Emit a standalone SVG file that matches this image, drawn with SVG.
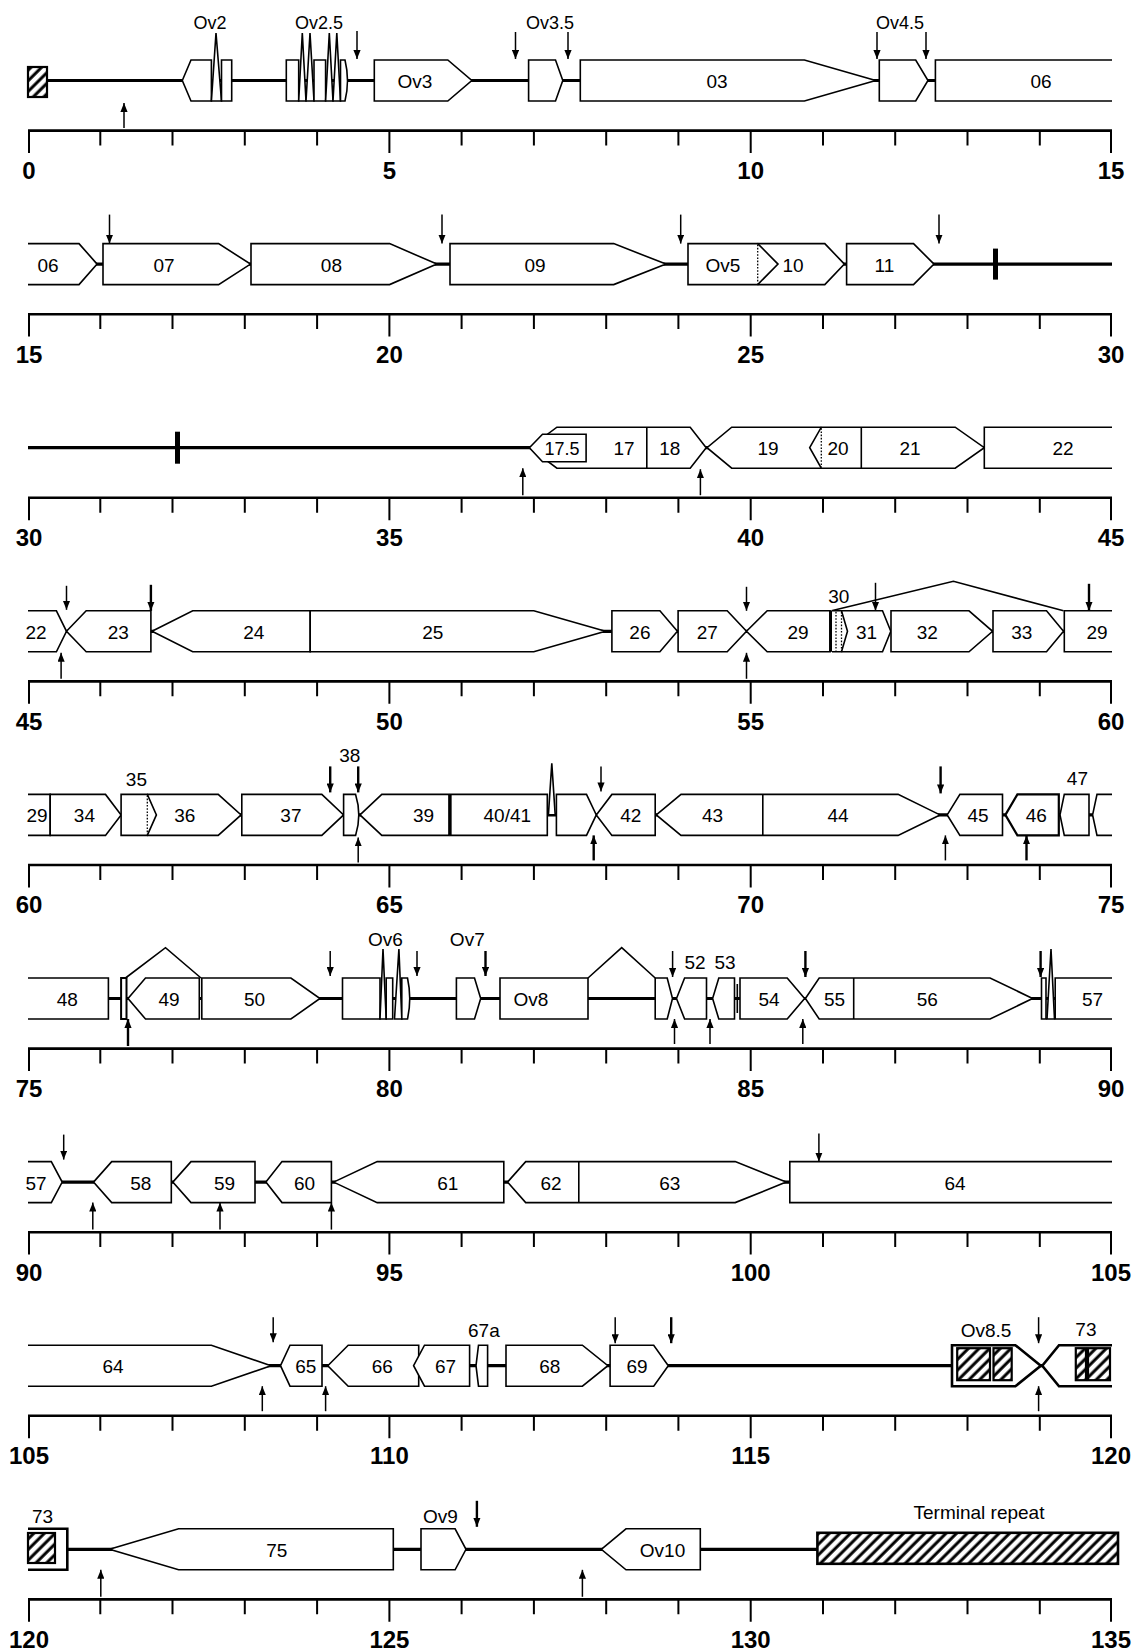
<svg xmlns="http://www.w3.org/2000/svg" width="1139" height="1650" viewBox="0 0 1139 1650">
<style>
.g{fill:#fff;stroke:#000;stroke-width:1.6;stroke-linejoin:miter}
.gk{fill:#fff;stroke:#000;stroke-width:2.6}
.h{fill:url(#hatch);stroke:#000;stroke-width:2.2}
.bb{stroke:#000;stroke-width:3.2}
.c{fill:none;stroke:#000;stroke-width:1.6}
.d{stroke:#000;stroke-width:1.3;stroke-dasharray:1.6 1.6}
.ln{stroke:#000;stroke-width:1.6}
.a{stroke:#000;stroke-width:1.5;marker-end:url(#ah)}
.ak{stroke:#000;stroke-width:2.4;marker-end:url(#ah)}
.bar{fill:#000}
text{font-family:"Liberation Sans",Arial,sans-serif;fill:#000}
.t{font-size:19px;text-anchor:middle}
.s{font-size:18px;text-anchor:middle}
.n{font-size:24px;font-weight:bold;text-anchor:middle}
</style>
<defs>
<pattern id="hatch" patternUnits="userSpaceOnUse" width="7.5" height="7.5" patternTransform="rotate(45)">
<rect width="7.5" height="7.5" fill="#fff"/>
<line x1="2" y1="0" x2="2" y2="7.5" stroke="#000" stroke-width="3"/>
</pattern>
<marker id="ah" markerUnits="userSpaceOnUse" viewBox="0 0 10 8" refX="10" refY="4" markerWidth="9" markerHeight="7.2" orient="auto">
<path d="M0,0 L10,4 L0,8 z" fill="#000"/>
</marker>
<g id="axis">
<line x1="28" y1="130.6" x2="1112" y2="130.6" stroke="#000" stroke-width="2.6"/>
<path d="M29,130V153M100.3,130V145.5M172.5,130V145.5M244.8,130V145.5M317.1,130V145.5M389.4,130V153M461.6,130V145.5M533.9,130V145.5M606.2,130V145.5M678.4,130V145.5M750.7,130V153M823,130V145.5M895.2,130V145.5M967.5,130V145.5M1039.8,130V145.5M1111,130V153" stroke="#000" stroke-width="2"/>
</g>
</defs>
<rect width="1139" height="1650" fill="#fff"/>

<!-- ROW 1 -->
<g id="row1">
<use href="#axis"/>
<g id="scale1"><text class="n" x="29" y="179">0</text><text class="n" x="389.4" y="179">5</text><text class="n" x="750.7" y="179">10</text><text class="n" x="1111" y="179">15</text></g>
<g id="connectors-row1">
<line class="bb" x1="47" y1="80.5" x2="1112" y2="80.5"/>
<line class="a" x1="124" y1="128" x2="124" y2="103"/>
<line class="a" x1="357" y1="31" x2="357" y2="59"/>
<line class="a" x1="515.5" y1="32" x2="515.5" y2="59"/>
<line class="a" x1="568" y1="32" x2="568" y2="59"/>
<line class="a" x1="877" y1="32" x2="877" y2="59"/>
<line class="a" x1="926" y1="32" x2="926" y2="59"/>
</g>
<g id="lterm"><rect class="h" x="28" y="67" width="19" height="30"/></g>
<g id="gene-Ov2">
<path class="g" d="M182.3,80.5 L191,60 H211.4 V101 H191 Z"/>
<path class="g" d="M211.4,101 L216,33 L221.5,101 Z"/>
<path class="g" d="M221.5,60 H231.7 V101 H221.5 Z"/>
<text class="s" x="210" y="29">Ov2</text>
</g>
<g id="gene-Ov2.5">
<path class="g" d="M286.3,60 H298.7 V101 H286.3 Z"/>
<path class="g" d="M298.7,101 L302.3,33 L306,101 Z"/>
<path class="g" d="M306,101 L310,33 L314,101 Z"/>
<path class="g" d="M314,60 H325.6 V101 H314 Z"/>
<path class="g" d="M325.6,101 L329.3,33 L333,101 Z"/>
<path class="g" d="M333,101 L336.8,33 L340.5,101 Z"/>
<path class="g" d="M340.5,60 H345 Q350,80.5 345,101 H340.5 Z"/>
<text class="s" x="319" y="29">Ov2.5</text>
</g>
<g id="gene-Ov3"><path class="g" d="M374.3,60 H447.8 L471.8,80.5 L447.8,101 H374.3 Z"/><text class="t" x="415" y="88">Ov3</text></g>
<g id="gene-Ov3.5"><path class="g" d="M528.6,60 H555.5 L562.8,80.5 L555.5,101 H528.6 Z"/><text class="s" x="550" y="29">Ov3.5</text></g>
<g id="gene-03"><path class="g" d="M580.3,60 H804.4 L875.7,80.5 L804.4,101 H580.3 Z"/><text class="t" x="717" y="88">03</text></g>
<g id="gene-Ov4.5"><path class="g" d="M879.3,60 H915.7 L928,80.5 L915.7,101 H879.3 Z"/><text class="s" x="900" y="29">Ov4.5</text></g>
<g id="gene-06a"><path class="g" d="M1112,60 H935.4 V101 H1112"/><text class="t" x="1041" y="88">06</text></g>
</g>

<!-- ROW 2 -->
<g id="row2" transform="translate(0,183.6)">
<use href="#axis"/>
<g id="scale2"><text class="n" x="29" y="179">15</text><text class="n" x="389.4" y="179">20</text><text class="n" x="750.7" y="179">25</text><text class="n" x="1111" y="179">30</text></g>
<g id="connectors-row2">
<line class="bb" x1="28" y1="80.5" x2="1112" y2="80.5"/>
<line class="a" x1="109.5" y1="31" x2="109.5" y2="60"/>
<line class="a" x1="442" y1="31" x2="442" y2="60"/>
<line class="a" x1="680.7" y1="31" x2="680.7" y2="60"/>
<line class="a" x1="939" y1="31" x2="939" y2="60"/>
</g>
<g id="gene-06b"><path class="g" d="M28,60 H79 L97.1,80.5 L79,101 H28"/><text class="t" x="48" y="88">06</text></g>
<g id="gene-07"><path class="g" d="M103,60 H218.6 L250.5,80.5 L218.6,101 H103 Z"/><text class="t" x="164" y="88">07</text></g>
<g id="gene-08"><path class="g" d="M251,60 H389.6 L436.9,80.5 L389.6,101 H251 Z"/><text class="t" x="331.4" y="88">08</text></g>
<g id="gene-09"><path class="g" d="M450,60 H613.7 L666,80.5 L613.7,101 H450 Z"/><text class="t" x="535" y="88">09</text></g>
<g id="gene-10"><path class="g" d="M757.7,60 H824.8 L844.4,80.5 L824.8,101 H757.7"/><text class="t" x="793" y="88">10</text></g>
<g id="gene-Ov5"><path class="g" d="M688,60 H757.7 L778,80.5 L757.7,101 H688 Z"/><line class="d" x1="757.7" y1="61" x2="757.7" y2="100"/><text class="t" x="723" y="88">Ov5</text></g>
<g id="gene-11"><path class="g" d="M846.6,60 H913.5 L934,80.5 L913.5,101 H846.6 Z"/><text class="t" x="884.4" y="88">11</text></g>
<g id="mark1"><rect class="bar" x="993" y="65" width="5" height="31"/></g>
</g>

<!-- ROW 3 -->
<g id="row3" transform="translate(0,367.2)">
<use href="#axis"/>
<g id="scale3"><text class="n" x="29" y="179">30</text><text class="n" x="389.4" y="179">35</text><text class="n" x="750.7" y="179">40</text><text class="n" x="1111" y="179">45</text></g>
<g id="connectors-row3">
<line class="bb" x1="28" y1="80.5" x2="1112" y2="80.5"/>
<line class="a" x1="522.8" y1="128" x2="522.8" y2="101"/>
<line class="a" x1="700.4" y1="128" x2="700.4" y2="102"/>
</g>
<g id="mark2"><rect class="bar" x="175" y="64.5" width="5" height="32"/></g>
<g id="gene-17-18"><path class="g" d="M556.9,60 H690.2 L706.2,80.5 L690.2,101 H556.9 L529.4,80.5 Z"/><line class="ln" x1="646.8" y1="60" x2="646.8" y2="101"/><text class="t" x="624" y="88">17</text><text class="t" x="669.8" y="88">18</text></g>
<g id="gene-17.5"><path class="g" d="M529.4,80.5 L542.5,67 H586.1 V94.5 H542.5 Z"/><text class="s" x="562" y="87.5">17.5</text></g>
<g id="gene-19"><path class="g" d="M821.3,60 H731.7 L707,80.5 L731.7,101 H821.3"/><text class="t" x="768" y="88">19</text></g>
<g id="gene-20-21"><path class="g" d="M809.7,80.5 L821.3,60 H955.2 L984.3,80.5 L955.2,101 H821.3 Z"/><line class="d" x1="821.3" y1="61" x2="821.3" y2="100"/><line class="ln" x1="861.3" y1="60" x2="861.3" y2="101"/><text class="t" x="838" y="88">20</text><text class="t" x="910" y="88">21</text></g>
<g id="gene-22a"><path class="g" d="M1112,60 H984.3 V101 H1112"/><text class="t" x="1063" y="88">22</text></g>
</g>

<!-- ROW 4 -->
<g id="row4" transform="translate(0,550.8)">
<use href="#axis"/>
<g id="scale4"><text class="n" x="29" y="179">45</text><text class="n" x="389.4" y="179">50</text><text class="n" x="750.7" y="179">55</text><text class="n" x="1111" y="179">60</text></g>
<g id="connectors-row4">
<line class="bb" x1="28" y1="80.5" x2="1112" y2="80.5"/>
<polyline class="c" points="831.5,60 953.4,30.5 1063.5,60"/>
<line class="a" x1="66.5" y1="35" x2="66.5" y2="59"/>
<line class="a" x1="61.1" y1="128" x2="61.1" y2="102"/>
<line class="ak" x1="150.9" y1="34" x2="150.9" y2="60"/>
<line class="a" x1="746.5" y1="36" x2="746.5" y2="60"/>
<line class="a" x1="746.5" y1="128" x2="746.5" y2="102"/>
<line class="a" x1="875.5" y1="32" x2="875.5" y2="60"/>
<line class="ak" x1="1089" y1="33" x2="1089" y2="60"/>
</g>
<g id="gene-22b"><path class="g" d="M28,60 H56.4 L66.5,80.5 L56.4,101 H28"/><text class="t" x="36" y="88">22</text></g>
<g id="gene-23"><path class="g" d="M66.5,80.5 L86.2,60 H150.9 V101 H86.2 Z"/><text class="t" x="118.2" y="88">23</text></g>
<g id="gene-24"><path class="g" d="M152,80.5 L192.7,60 H310.2 V101 H192.7 Z"/><text class="t" x="253.8" y="88">24</text></g>
<g id="gene-25"><path class="g" d="M310.2,60 H533.8 L605.4,80.5 L533.8,101 H310.2 Z"/><text class="t" x="432.7" y="88">25</text></g>
<g id="gene-26"><path class="g" d="M611.9,60 H659.9 L677.4,80.5 L659.9,101 H611.9 Z"/><text class="t" x="639.9" y="88">26</text></g>
<g id="gene-27"><path class="g" d="M678.1,60 H727.2 L746.5,80.5 L727.2,101 H678.1 Z"/><text class="t" x="707.2" y="88">27</text></g>
<g id="gene-29a"><path class="g" d="M746.5,80.5 L767.2,60 H830.1 V101 H767.2 Z"/><line x1="830.6" y1="60" x2="830.6" y2="101" stroke="#000" stroke-width="3"/><text class="t" x="798.1" y="88">29</text></g>
<g id="gene-31"><path class="g" d="M841.5,60 H882.5 L890.8,80.5 L882.5,101 H841.5"/><text class="t" x="866.5" y="88">31</text></g>
<g id="gene-30"><path class="g" d="M832,60 H841.5 L847.5,80.5 L841.5,101 H832"/><line class="d" x1="836" y1="61" x2="836" y2="100"/><line class="d" x1="841.5" y1="61" x2="841.5" y2="100"/><text class="t" x="838.8" y="52">30</text></g>
<g id="gene-32"><path class="g" d="M891,60 H969 L992.6,80.5 L969,101 H891 Z"/><text class="t" x="927.2" y="88">32</text></g>
<g id="gene-33"><path class="g" d="M993,60 H1046.5 L1063.5,80.5 L1046.5,101 H993 Z"/><text class="t" x="1021.7" y="88">33</text></g>
<g id="gene-29b"><path class="g" d="M1112,60 H1064.3 V101 H1112"/><text class="t" x="1097" y="88">29</text></g>
</g>

<!-- ROW 5 -->
<g id="row5" transform="translate(0,734.4)">
<use href="#axis"/>
<g id="scale5"><text class="n" x="29" y="179">60</text><text class="n" x="389.4" y="179">65</text><text class="n" x="750.7" y="179">70</text><text class="n" x="1111" y="179">75</text></g>
<g id="connectors-row5">
<line class="bb" x1="28" y1="80.5" x2="1112" y2="80.5"/>
<line class="ak" x1="330.2" y1="32" x2="330.2" y2="58"/>
<line class="ak" x1="358.2" y1="32" x2="358.2" y2="58"/>
<line class="a" x1="358.2" y1="128" x2="358.2" y2="103"/>
<line class="a" x1="601" y1="32" x2="601" y2="57"/>
<line class="ak" x1="593.7" y1="126" x2="593.7" y2="101"/>
<line class="ak" x1="940.6" y1="32" x2="940.6" y2="59"/>
<line class="a" x1="945.4" y1="126" x2="945.4" y2="101"/>
<line class="ak" x1="1026.5" y1="126" x2="1026.5" y2="101"/>
</g>
<g id="gene-29c"><path class="g" d="M28,60 H50.2 V101 H28"/><text class="t" x="37" y="88">29</text></g>
<g id="gene-34"><path class="g" d="M50.2,60 H105.5 L121.1,80.5 L105.5,101 H50.2 Z"/><text class="t" x="84.4" y="88">34</text></g>
<g id="gene-36"><path class="g" d="M147.3,60 H218.2 L241.1,80.5 L218.2,101 H147.3"/><text class="t" x="184.7" y="88">36</text></g>
<g id="gene-35"><path class="g" d="M121.1,60 H147.3 L156.4,80.5 L147.3,101 H121.1 Z"/><line class="d" x1="147.3" y1="61" x2="147.3" y2="100"/><text class="t" x="136.4" y="51.5">35</text></g>
<g id="gene-37"><path class="g" d="M241.8,60 H321.8 L343.6,80.5 L321.8,101 H241.8 Z"/><text class="t" x="290.9" y="88">37</text></g>
<g id="gene-38"><path class="g" d="M343.6,60 H355.6 Q362,80.5 355.6,101 H343.6 Z"/><text class="t" x="349.8" y="28">38</text></g>
<g id="gene-39"><path class="g" d="M360,80.5 L381.8,60 H449.1 V101 H381.8 Z"/><text class="t" x="423.6" y="88">39</text></g>
<g id="gene-40-41"><path class="g" d="M450.5,60 H547.3 V101 H450.5 Z"/><line x1="450" y1="60" x2="450" y2="101" stroke="#000" stroke-width="3"/><text class="t" x="507.3" y="88">40/41</text></g>
<g id="orf-r5a"><path class="g" d="M548.4,80.5 L551.8,29 L555.2,80.5 Z"/></g>
<g id="orf-r5b"><path class="g" d="M556.4,60 H586.5 L596.3,80.5 L586.5,101 H556.4 Z"/></g>
<g id="gene-42"><path class="g" d="M596.3,80.5 L611.9,60 H655.2 V101 H611.9 Z"/><text class="t" x="630.8" y="88">42</text></g>
<g id="gene-43-44"><path class="g" d="M656.3,80.5 L681,60 H898.1 L940,80.5 L898.1,101 H681 Z"/><line class="ln" x1="762.8" y1="60" x2="762.8" y2="101"/><text class="t" x="712.6" y="88">43</text><text class="t" x="838.1" y="88">44</text></g>
<g id="gene-45"><path class="g" d="M947.2,80.5 L959.9,60 H1002.5 V101 H959.9 Z"/><text class="t" x="978.1" y="88">45</text></g>
<g id="gene-46"><path class="g" style="stroke-width:2.2" d="M1005.4,80.5 L1017.4,60 H1058.8 V101 H1017.4 Z"/><text class="t" x="1036.3" y="88">46</text></g>
<g id="gene-47"><path class="g" d="M1060,80.5 L1064.3,60 H1089 V101 H1064.3 Z"/><text class="t" x="1077.4" y="51">47</text></g>
<g id="gene-48a"><path class="g" d="M1112,60 H1097 L1092.6,80.5 L1097,101 H1112"/></g>
</g>

<!-- ROW 6 -->
<g id="row6" transform="translate(0,918)">
<use href="#axis"/>
<g id="scale6"><text class="n" x="29" y="179">75</text><text class="n" x="389.4" y="179">80</text><text class="n" x="750.7" y="179">85</text><text class="n" x="1111" y="179">90</text></g>
<g id="connectors-row6">
<line class="bb" x1="28" y1="80.5" x2="1112" y2="80.5"/>
<polyline class="c" points="125.5,60 165.5,29.7 201,60"/>
<polyline class="c" points="588,60 621.7,29.7 655.2,60"/>
<line class="ak" x1="128" y1="128" x2="128" y2="101"/>
<line class="a" x1="330.2" y1="33" x2="330.2" y2="58"/>
<line class="a" x1="417" y1="33" x2="417" y2="58"/>
<line class="ak" x1="485.5" y1="33" x2="485.5" y2="58"/>
<line class="a" x1="672.6" y1="33" x2="672.6" y2="59"/>
<line class="a" x1="674.5" y1="126" x2="674.5" y2="101"/>
<line class="a" x1="710" y1="126" x2="710" y2="101"/>
<line class="ak" x1="805.4" y1="33" x2="805.4" y2="59"/>
<line class="a" x1="802.8" y1="126" x2="802.8" y2="101"/>
<line class="ak" x1="1040.6" y1="33" x2="1040.6" y2="59"/>
</g>
<g id="gene-48b"><path class="g" d="M28,60 H108.4 V101 H28"/><text class="t" x="67.3" y="88">48</text></g>
<g id="orf-r6a"><path class="g" style="stroke-width:2" d="M121.1,60 H126.5 V101 H121.1 Z"/></g>
<g id="gene-49"><path class="g" d="M128,80.5 L145.5,60 H199.3 V101 H145.5 Z"/><text class="t" x="169.1" y="88">49</text></g>
<g id="gene-50"><path class="g" d="M201.8,60 H290.9 L320,80.5 L290.9,101 H201.8 Z"/><text class="t" x="254.5" y="88">50</text></g>
<g id="gene-Ov6">
<path class="g" d="M342.5,60 H380 V101 H342.5 Z"/>
<path class="g" d="M380,101 L383,31 L386.2,101 Z"/>
<path class="g" d="M386.2,60 H392.7 V101 H386.2 Z"/>
<path class="g" d="M394.5,101 L398.9,31 L401.8,101 Z"/>
<path class="g" d="M401.8,60 H407.5 Q412,80.5 407.5,101 H401.8 Z"/>
<text class="t" x="385.5" y="28">Ov6</text>
</g>
<g id="gene-Ov7"><path class="g" d="M456.4,60 H474.5 L480.7,80.5 L474.5,101 H456.4 Z"/><text class="t" x="467.3" y="28">Ov7</text></g>
<g id="gene-Ov8"><path class="g" d="M500,60 H588 V101 H500 Z"/><text class="t" x="531" y="88">Ov8</text></g>
<g id="orf-r6b"><path class="g" d="M655.2,60 H667.2 L672.5,80.5 L667.2,101 H655.2 Z"/></g>
<g id="gene-52"><path class="g" d="M676.5,80.5 L684.6,60 H706.5 V101 H684.6 Z"/><text class="t" x="695" y="51">52</text></g>
<g id="gene-53"><path class="g" d="M712.6,80.5 L718.8,60 H734.5 V101 H718.8 Z"/><text class="t" x="725" y="51">53</text></g>
<g id="orf-r6c"><line class="ln" x1="737.3" y1="66" x2="737.3" y2="95"/></g>
<g id="gene-54"><path class="g" d="M740,60 H787.2 L804.6,80.5 L787.2,101 H740 Z"/><text class="t" x="769" y="88">54</text></g>
<g id="gene-55-56"><path class="g" d="M805.4,80.5 L819.2,60 H990.1 L1032.6,80.5 L990.1,101 H819.2 Z"/><line class="ln" x1="853.7" y1="60" x2="853.7" y2="101"/><text class="t" x="834.5" y="88">55</text><text class="t" x="927.2" y="88">56</text></g>
<g id="orf-r6d"><path class="g" d="M1041.5,60 H1046 V101 H1041.5 Z"/><path class="g" d="M1047,101 L1051,31 L1054.5,101 Z"/></g>
<g id="gene-57a"><path class="g" d="M1112,60 H1055.2 V101 H1112"/><text class="t" x="1092.6" y="88">57</text></g>
</g>

<!-- ROW 7 -->
<g id="row7" transform="translate(0,1101.6)">
<use href="#axis"/>
<g id="scale7"><text class="n" x="29" y="179">90</text><text class="n" x="389.4" y="179">95</text><text class="n" x="750.7" y="179">100</text><text class="n" x="1111" y="179">105</text></g>
<g id="connectors-row7">
<line class="bb" x1="28" y1="80.5" x2="1112" y2="80.5"/>
<line class="a" x1="63.7" y1="33" x2="63.7" y2="58"/>
<line class="a" x1="92.8" y1="128" x2="92.8" y2="101"/>
<line class="a" x1="220" y1="128" x2="220" y2="101"/>
<line class="a" x1="331.4" y1="128" x2="331.4" y2="101"/>
<line class="a" x1="818.9" y1="32" x2="818.9" y2="60"/>
</g>
<g id="gene-57b"><path class="g" d="M28,60 H51.3 L62.2,80.5 L51.3,101 H28"/><text class="t" x="36" y="88">57</text></g>
<g id="gene-58"><path class="g" d="M93.5,80.5 L111.7,60 H171.3 V101 H111.7 Z"/><text class="t" x="140.8" y="88">58</text></g>
<g id="gene-59"><path class="g" d="M172.8,80.5 L191,60 H255 V101 H191 Z"/><text class="t" x="224.5" y="88">59</text></g>
<g id="gene-60"><path class="g" d="M265.9,80.5 L282,60 H331.4 V101 H282 Z"/><text class="t" x="304.5" y="88">60</text></g>
<g id="gene-61"><path class="g" d="M333.6,80.5 L377.2,60 H503.8 V101 H377.2 Z"/><text class="t" x="447.8" y="88">61</text></g>
<g id="gene-62-63"><path class="g" d="M507.5,80.5 L525.7,60 H735.2 L786.2,80.5 L735.2,101 H525.7 Z"/><line class="ln" x1="578.8" y1="60" x2="578.8" y2="101"/><text class="t" x="551.1" y="88">62</text><text class="t" x="669.7" y="88">63</text></g>
<g id="gene-64a"><path class="g" d="M1112,60 H789.8 V101 H1112"/><text class="t" x="955" y="88">64</text></g>
</g>

<!-- ROW 8 -->
<g id="row8" transform="translate(0,1285.2)">
<use href="#axis"/>
<g id="scale8"><text class="n" x="29" y="179">105</text><text class="n" x="389.4" y="179">110</text><text class="n" x="750.7" y="179">115</text><text class="n" x="1111" y="179">120</text></g>
<g id="connectors-row8">
<line class="bb" x1="28" y1="80.5" x2="1112" y2="80.5"/>
<line class="a" x1="273.2" y1="32" x2="273.2" y2="57"/>
<line class="a" x1="262.3" y1="126" x2="262.3" y2="101"/>
<line class="a" x1="325.6" y1="126" x2="325.6" y2="101"/>
<line class="a" x1="615.2" y1="32" x2="615.2" y2="58"/>
<line class="ak" x1="671.2" y1="32" x2="671.2" y2="58"/>
<line class="a" x1="1038.6" y1="32" x2="1038.6" y2="58"/>
<line class="a" x1="1038.6" y1="126" x2="1038.6" y2="101"/>
</g>
<g id="gene-64b"><path class="g" d="M28,60 H211.4 L271,80.5 L211.4,101 H28"/><text class="t" x="113.1" y="88">64</text></g>
<g id="gene-65"><path class="g" d="M280.5,80.5 L290,60 H322 V101 H290 Z"/><text class="t" x="305.7" y="88">65</text></g>
<g id="gene-66"><path class="g" d="M327.8,80.5 L348.2,60 H418.7 V101 H348.2 Z"/><text class="t" x="382.3" y="88">66</text></g>
<g id="gene-67"><path class="g" d="M413.6,80.5 L424.5,60 H469.6 V101 H424.5 Z"/><text class="t" x="445.6" y="88">67</text></g>
<g id="gene-67a"><path class="g" d="M476,80.5 L478.5,60 H487.6 V101 H478.5 Z"/><text class="t" x="483.9" y="51.5">67a</text></g>
<g id="gene-68"><path class="g" d="M506,60 H582.4 L607.9,80.5 L582.4,101 H506 Z"/><text class="t" x="549.7" y="88">68</text></g>
<g id="gene-69"><path class="g" d="M610.1,60 H653.7 L668.3,80.5 L653.7,101 H610.1 Z"/><text class="t" x="637" y="88">69</text></g>
<g id="gene-Ov8.5"><path class="gk" d="M952,60 H1015.4 L1040.8,80.5 L1015.4,101 H952 Z"/><rect class="h" x="957.2" y="63" width="32.8" height="32"/><rect class="h" x="993.5" y="63" width="18.2" height="32"/><text class="t" x="986" y="51.5">Ov8.5</text></g>
<g id="gene-73a"><path class="gk" d="M1112,60 H1059 L1042.3,80.5 L1059,101 H1112"/><rect class="h" x="1075.8" y="63" width="10.2" height="32"/><rect class="h" x="1088" y="63" width="22" height="32"/><text class="t" x="1085.9" y="51">73</text></g>
</g>

<!-- ROW 9 -->
<g id="row9" transform="translate(0,1468.8)">
<use href="#axis"/>
<g id="scale9"><text class="n" x="29" y="179">120</text><text class="n" x="389.4" y="179">125</text><text class="n" x="750.7" y="179">130</text><text class="n" x="1111" y="179">135</text></g>
<g id="connectors-row9">
<line class="bb" x1="60" y1="80.5" x2="820" y2="80.5"/>
<line class="a" x1="100.8" y1="128" x2="100.8" y2="101"/>
<line class="ak" x1="476.9" y1="32" x2="476.9" y2="58"/>
<line class="a" x1="582.4" y1="128" x2="582.4" y2="101"/>
</g>
<g id="gene-73b"><path class="gk" d="M28,60 H67.3 V101 H28"/><rect class="h" x="28" y="64.2" width="27" height="30"/><text class="t" x="42.6" y="54">73</text></g>
<g id="gene-75"><path class="g" d="M109.5,80.5 L178.6,60 H393.3 V101 H178.6 Z"/><text class="t" x="276.8" y="88">75</text></g>
<g id="gene-Ov9"><path class="g" d="M421,60 H455.1 L466,80.5 L455.1,101 H421 Z"/><text class="t" x="440.5" y="54">Ov9</text></g>
<g id="gene-Ov10"><path class="g" d="M601.3,80.5 L626,60 H700.3 V101 H626 Z"/><text class="t" x="662.5" y="88">Ov10</text></g>
<g id="terminal-repeat"><rect class="h" style="stroke-width:2.6" x="817.4" y="64" width="300.6" height="31"/><text class="t" x="979" y="50">Terminal repeat</text></g>
</g>
</svg>
